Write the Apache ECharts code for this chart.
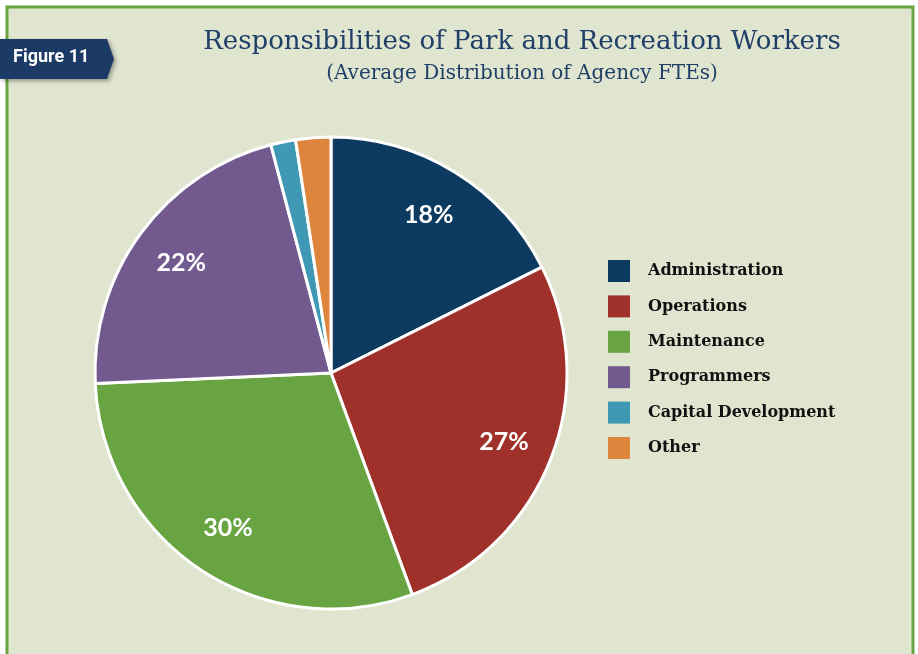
<!DOCTYPE html>
<html>
<head>
<meta charset="utf-8">
<script src="https://cdn.jsdelivr.net/npm/echarts@6/dist/echarts.min.js"></script>
<style>
html,body{margin:0;padding:0;background:#ffffff;}
#chart{width:918px;height:654px;}
</style>
</head>
<body>
<div id="chart"></div>
<script>
var categories = ['Administration', 'Operations', 'Maintenance', 'Programmers', 'Capital Development', 'Other'];
var values = [17.6, 26.8, 29.9, 21.6, 1.7, 2.4];
var colors = ['#0d3a60', '#a0302a', '#69a443', '#725a8f', '#3f99b4', '#dd853d'];
var showLabel = [true, true, true, true, false, false];

var pieData = categories.map(function (c, i) {
  return { name: c, value: values[i], itemStyle: { color: colors[i] } };
});
var labelData = categories.map(function (c, i) {
  return { name: c, value: values[i], label: { show: showLabel[i] } };
});

var chart = echarts.init(document.getElementById('chart'), null, { renderer: 'canvas' });
chart.setOption({
  backgroundColor: '#ffffff',
  animation: false,
  graphic: [
    { type: 'rect', z: -10, shape: { x: 7, y: 7, width: 906, height: 660 },
      style: { fill: '#dfe5cf', stroke: '#6aa442', lineWidth: 3 } },
    { type: 'polygon', z: 10,
      shape: { points: [[0, 39], [107, 39], [114, 59], [107, 79], [0, 79]] },
      style: { fill: '#1b3a66', shadowBlur: 4, shadowColor: 'rgba(0,0,0,0.35)', shadowOffsetX: 2, shadowOffsetY: 2 } },
    { type: 'text', z: 11, left: 13, top: 48,
      style: { text: 'Figure 11', fill: '#ffffff', font: 'bold 18px "Liberation Sans Narrow", "Roboto", sans-serif' } }
  ],
  title: {
    text: 'Responsibilities of Park and Recreation Workers',
    subtext: '(Average Distribution of Agency FTEs)',
    left: 522, textAlign: 'center', top: 29, itemGap: 9, padding: 0,
    textStyle: { color: '#1f3f68', fontFamily: 'DejaVu Serif', fontSize: 26, fontWeight: 'normal' },
    subtextStyle: { color: '#1f3f68', fontFamily: 'DejaVu Serif', fontSize: 20 }
  },
  legend: {
    orient: 'vertical', left: 608, top: 260, padding: 0,
    itemWidth: 22, itemHeight: 22, itemGap: 13.4,
    icon: 'rect',
    itemStyle: { borderWidth: 0 },
    data: categories,
    textStyle: { color: '#111111', fontFamily: 'DejaVu Serif', fontWeight: 'bold', fontSize: 16, lineHeight: 22, padding: [0, 0, 0, 13] }
  },
  series: [
    {
      type: 'pie', center: [331, 373], radius: [0, 236],
      startAngle: 90, clockwise: true, silent: true,
      itemStyle: { borderColor: '#ffffff', borderWidth: 3 },
      label: { show: false }, labelLine: { show: false },
      data: pieData
    },
    {
      type: 'pie', center: [331, 373], radius: [130, 236],
      startAngle: 90, clockwise: true, silent: true,
      legendHoverLink: false,
      itemStyle: { color: 'rgba(0,0,0,0)', borderWidth: 0 },
      label: { show: true, position: 'inside', color: '#ffffff', fontFamily: 'Lato', fontSize: 25, fontWeight: 'bold',
        formatter: function (p) { return Math.round(p.value) + '%'; } },
      labelLine: { show: false },
      data: labelData
    }
  ]
});
</script>
</body>
</html>
